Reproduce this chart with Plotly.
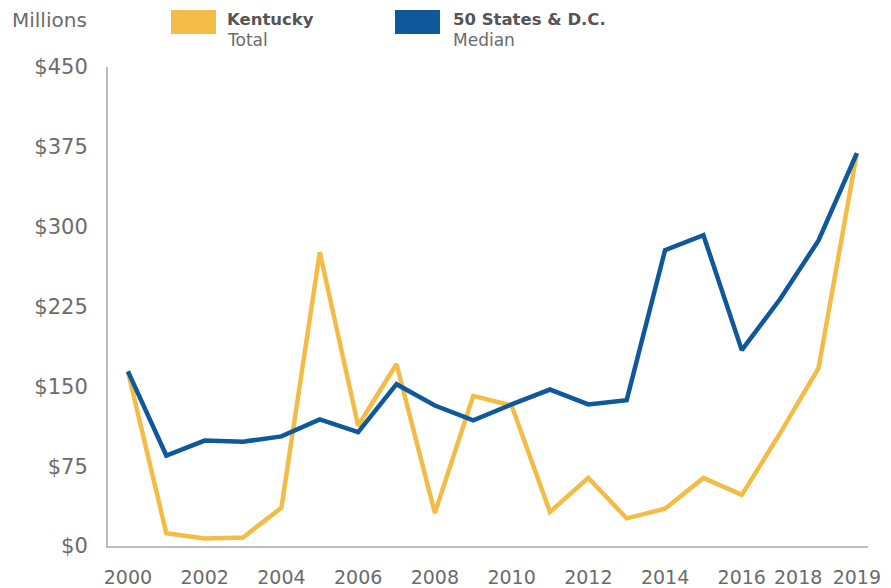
import plotly.graph_objects as go

years = list(range(2000, 2020))
kentucky = [164, 12, 7, 8, 36, 276, 113, 171, 31, 141, 132, 32, 64, 26, 35, 64, 48, 106, 167, 369]
median = [164, 85, 99, 98, 103, 119, 107, 152, 132, 118, 133, 147, 133, 137, 278, 292, 184, 232, 287, 369]
y_ticks = [0, 75, 150, 225, 300, 375, 450]
y_labels = ["$" + str(v) for v in y_ticks]
x_ticks = [2000, 2002, 2004, 2006, 2008, 2010, 2012, 2014, 2016, 2019]
x_extra = 2018

YELLOW = "#F2BC47"
BLUE = "#0F5899"
GRID = "#BDBDBD"
TXT = "#6B6B6B"
DARK = "#555555"
FONT = "DejaVu Sans"

OFF = 8  # page body margin
W, H = 891 - OFF, 588 - OFF
# plot area in screen pixels: x 108..868, y 67..546
L, R, T, B = 108 - OFF, 891 - 868, 67 - OFF, 588 - 546
pw, ph = W - L - R, H - T - B


def px(x):
    return (x - OFF - L) / pw


def py(y):
    return (H - B - (y - OFF)) / ph


fig = go.Figure()
fig.add_trace(go.Scatter(x=years, y=kentucky, mode="lines",
                         line=dict(color=YELLOW, width=4.5), name="Kentucky"))
fig.add_trace(go.Scatter(x=years, y=median, mode="lines",
                         line=dict(color=BLUE, width=4.5), name="50 States & D.C."))

shapes = [
    dict(type="rect", xref="paper", yref="paper", x0=px(171), x1=px(216), y0=py(34), y1=py(10),
         fillcolor=YELLOW, line=dict(width=0)),
    dict(type="rect", xref="paper", yref="paper", x0=px(395), x1=px(440), y0=py(34), y1=py(10),
         fillcolor=BLUE, line=dict(width=0)),
]

annotations = [
    dict(text="Millions", xref="paper", yref="paper", x=px(10), y=py(20), xanchor="left",
         yanchor="middle", showarrow=False, font=dict(family=FONT, size=20, color=TXT)),
    dict(text="<b>Kentucky</b>", xref="paper", yref="paper", x=px(225), y=py(20), xanchor="left",
         yanchor="middle", showarrow=False, font=dict(family=FONT, size=16.5, color=DARK)),
    dict(text="Total", xref="paper", yref="paper", x=px(225), y=py(40), xanchor="left",
         yanchor="middle", showarrow=False, font=dict(family=FONT, size=17, color=TXT)),
    dict(text="<b>50 States &amp; D.C.</b>", xref="paper", yref="paper", x=px(451), y=py(20),
         xanchor="left", yanchor="middle", showarrow=False, font=dict(family=FONT, size=16.5, color=DARK)),
    dict(text="Median", xref="paper", yref="paper", x=px(451), y=py(40), xanchor="left",
         yanchor="middle", showarrow=False, font=dict(family=FONT, size=17, color=TXT)),
    dict(text=str(x_extra), x=x_extra, xref="x", yref="paper", y=py(577), xanchor="center",
         yanchor="middle", xshift=-21, showarrow=False, font=dict(family=FONT, size=19, color=TXT)),
]

fig.update_layout(
    width=W, height=H,
    margin=dict(l=L, r=R, t=T, b=B, autoexpand=False),
    paper_bgcolor="white", plot_bgcolor="white",
    showlegend=False,
    shapes=shapes,
    annotations=annotations,
    font=dict(family=FONT, color=TXT),
    xaxis=dict(range=[1999.48, 2019.29], tickvals=x_ticks, ticktext=[str(v) for v in x_ticks],
               tickangle=0, showgrid=False, zeroline=False, showline=True, linecolor=GRID,
               linewidth=2, ticks="", ticklabelstandoff=13, automargin=False,
               tickfont=dict(family=FONT, size=19, color=TXT)),
    yaxis=dict(range=[0, 450], tickvals=y_ticks, ticktext=y_labels, showgrid=False,
               zeroline=False, showline=True, linecolor=GRID, linewidth=2, ticks="",
               ticklabelstandoff=14, automargin=False, tickfont=dict(family=FONT, size=21, color=TXT)),
)

fig.write_html("out.html")
